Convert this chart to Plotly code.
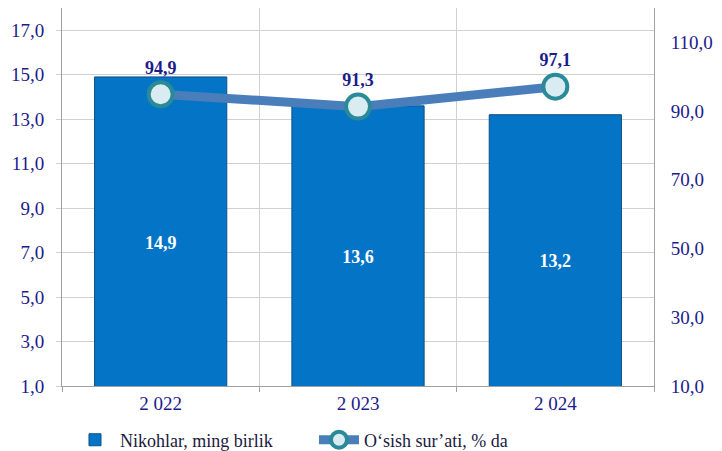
import plotly.graph_objects as go

years = ["2 022", "2 023", "2 024"]
marriages = [14.9, 13.6, 13.2]
growth = [94.9, 91.3, 97.1]
bar_name = "Nikohlar, ming birlik"
line_name = "O\u2018sish sur\u2019ati, % da"
left_ticks = [1, 3, 5, 7, 9, 11, 13, 15, 17]
right_ticks = [10, 30, 50, 70, 90, 110]

def fmt(v):
    return f"{v:.1f}".replace(".", ",")

navy = "#1c1c8a"
font_family = "Liberation Serif, Times New Roman, serif"

fig = go.Figure()
fig.add_trace(go.Bar(
    x=years, y=marriages, name=bar_name,
    marker=dict(color="#0474C6", line=dict(color="#0a4f86", width=1)),
    text=[fmt(v) for v in marriages], textposition="inside",
    insidetextanchor="middle",
    textfont=dict(color="white", size=18, family=font_family, weight="bold"),
))
fig.add_trace(go.Scatter(
    x=years, y=growth, name=line_name, yaxis="y2",
    mode="lines+markers+text",
    line=dict(color="#4a7ebb", width=9),
    marker=dict(size=24, color="#d8ecf2", line=dict(color="#2b8a98", width=4)),
    text=[fmt(v) for v in growth], textposition="top center",
    textfont=dict(color=navy, size=18, family=font_family, weight="bold"),
    cliponaxis=False,
))

fig.update_layout(
    width=714, height=443,
    margin=dict(l=54, r=68, t=0, b=65, autoexpand=False),
    paper_bgcolor="white", plot_bgcolor="white",
    bargap=0.33,
    font=dict(family=font_family, color=navy, size=18),
    xaxis=dict(
        type="category", tickson="boundaries", showgrid=True,
        gridcolor="#d0d0d0", gridwidth=1, automargin=False,
        ticks="outside", ticklen=5, tickcolor="#a0a0a0",
        showline=True, linecolor="#a0a0a0", linewidth=1,
        tickfont=dict(size=19, color=navy, family=font_family),
    ),
    yaxis=dict(
        range=[1, 18], tickvals=left_ticks,
        ticktext=[fmt(v) for v in left_ticks], automargin=False,
        showgrid=True, gridcolor="#d0d0d0", gridwidth=1,
        showline=True, linecolor="#a0a0a0", linewidth=1,
        ticks="outside", ticklen=5, tickcolor="#d0d0d0",
        zeroline=False, ticklabelstandoff=8,
        tickfont=dict(size=19, color=navy, family=font_family),
    ),
    yaxis2=dict(
        overlaying="y", side="right", range=[10, 120], automargin=False,
        tickvals=right_ticks,
        ticktext=[fmt(v) for v in right_ticks],
        showgrid=False, showline=True, linecolor="#a0a0a0", linewidth=1,
        zeroline=False, ticklabelstandoff=12,
        tickfont=dict(size=19, color=navy, family=font_family),
    ),
    legend=dict(orientation="h", x=0.0135, y=-0.143, xanchor="left", yanchor="middle",
                font=dict(size=18, color="#1a1a40", family=font_family),
                itemwidth=40, entrywidthmode="pixels", entrywidth=189),
    showlegend=True,
)

fig.write_html("out.html")
